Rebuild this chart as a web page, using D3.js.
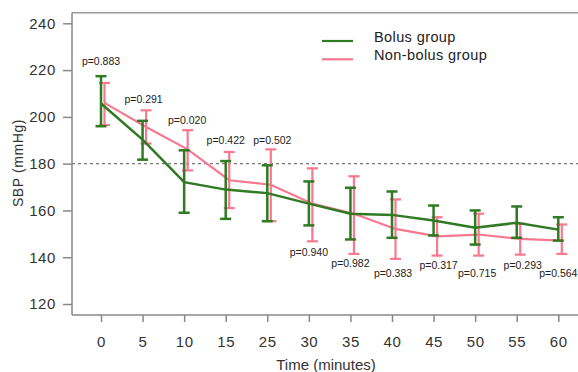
<!DOCTYPE html>
<html><head><meta charset="utf-8">
<script src="https://cdn.jsdelivr.net/npm/d3@7"></script>
<style>body{margin:0;background:#fff}svg{display:block}text{font-family:"Liberation Sans",Arial,sans-serif}</style>
</head><body>
<svg id="c" width="578" height="372"></svg>
<script>
const times = ["0","5","10","15","25","30","35","40","45","50","55","60"];
const bolusMean = [205.7,190.3,172.1,168.9,167.4,162.9,158.6,158.1,155.7,152.6,154.7,151.8];
const bolusHigh = [217.4,198.3,185.7,181.1,179.3,172.4,169.7,168.1,162.1,160.0,161.7,157.1];
const bolusLow  = [196.0,181.7,159.0,156.4,155.4,153.6,147.6,148.3,149.3,145.4,148.3,147.1];
const nonMean = [206.0,195.7,186.1,172.9,171.0,162.9,158.6,152.1,148.9,149.7,147.8,147.1];
const nonHigh = [214.5,202.8,194.3,185.0,186.1,178.0,174.6,164.7,157.1,158.6,154.3,154.0];
const nonLow  = [196.5,188.6,177.1,161.0,155.4,146.8,141.4,139.3,140.7,140.7,141.1,141.4];
const pValues = ["p=0.883","p=0.291","p=0.020","p=0.422","p=0.502","p=0.940","p=0.982","p=0.383","p=0.317","p=0.715","p=0.293","p=0.564"];
const pLabelAt = [223.5,207.3,198.3,189.7,189.7,141.9,137.1,132.6,136.0,132.6,136.0,132.6];
const yTicks = [120,140,160,180,200,220,240];
const refLine = 180;
const legendLabels = ["Bolus group","Non-bolus group"];

(function(){
const svg = d3.select("#c");
const green = "#2f7a22", pink = "#f7788f";
const x = d3.scalePoint().domain(times).range([101, 558.3]);
const y = d3.scaleLinear().domain([120,240]).range([304, 23.3]);
const L = 72, T = 12.7, B = 315, R = 578;
const pinkDx = 3.5;
const pLabelDx = [0,1,3,0,5,0,0,1,5,2,6,0];

svg.append("line").attr("x1",L).attr("x2",R).attr("y1",T).attr("y2",T).attr("stroke","#999").attr("stroke-width",1.5);
svg.append("line").attr("x1",L).attr("x2",R).attr("y1",y(refLine)).attr("y2",y(refLine))
  .attr("stroke","#777").attr("stroke-width",1.2).attr("stroke-dasharray","3,3");

const ya = svg.append("g").attr("transform",`translate(${L},0)`)
  .call(d3.axisLeft(y).tickValues(yTicks).tickSize(9).tickPadding(7));
ya.select(".domain").attr("d",`M0,${T}V${B}`);
const xa = svg.append("g").attr("transform",`translate(0,${B})`)
  .call(d3.axisBottom(x).tickSize(7).tickPadding(14));
xa.select(".domain").attr("d",`M${L},0H${R}`);
[ya,xa].forEach(g=>{
  g.selectAll("path,line").attr("stroke","#888").attr("stroke-width",1.5);
  g.selectAll("text").attr("fill","#333").attr("font-size",15).style("letter-spacing","0.6px");
});

function drawSeries(mean, hi, lo, color, dx, lw, cap){
  const g = svg.append("g");
  g.append("path").datum(mean).attr("fill","none").attr("stroke",color).attr("stroke-width",lw)
    .attr("d", d3.line().x((d,i)=>x(times[i])+dx).y(d=>y(d)));
  times.forEach((t,i)=>{
    const cx = x(t)+dx;
    g.append("line").attr("x1",cx).attr("x2",cx).attr("y1",y(hi[i])).attr("y2",y(lo[i])).attr("stroke",color).attr("stroke-width",lw);
    [hi[i],lo[i]].forEach(v=>g.append("line").attr("x1",cx-cap).attr("x2",cx+cap).attr("y1",y(v)).attr("y2",y(v)).attr("stroke",color).attr("stroke-width",lw));
  });
}
drawSeries(nonMean, nonHigh, nonLow, pink, pinkDx, 2.2, 5.5);
drawSeries(bolusMean, bolusHigh, bolusLow, green, 0, 2.5, 5.5);

svg.append("g").selectAll("text").data(pValues).join("text")
  .attr("x",(d,i)=>x(times[i])+pLabelDx[i]).attr("y",(d,i)=>y(pLabelAt[i]))
  .attr("text-anchor","middle").attr("dominant-baseline","middle")
  .attr("font-size",10.5).attr("fill","#222").text(d=>d);

const lg = svg.append("g");
[[green,41],[pink,59.3]].forEach(([c,ly],i)=>{
  lg.append("line").attr("x1",322).attr("x2",353).attr("y1",ly).attr("y2",ly).attr("stroke",c).attr("stroke-width",2.2);
  lg.append("text").attr("x",374).attr("y",ly-3).attr("dominant-baseline","middle")
    .attr("font-size",14.5).attr("fill","#222").style("letter-spacing","0.4px").text(legendLabels[i]);
});

svg.append("text").attr("x",326).attr("y",366).attr("text-anchor","middle").attr("dominant-baseline","middle")
  .attr("font-size",15).attr("fill","#333").text("Time (minutes)");
svg.append("text").attr("transform","translate(19,163) rotate(-90)").attr("text-anchor","middle").attr("dominant-baseline","middle")
  .attr("font-size",14).attr("fill","#333").style("letter-spacing","0.6px").text("SBP (mmHg)");
})();
</script>
</body></html>
